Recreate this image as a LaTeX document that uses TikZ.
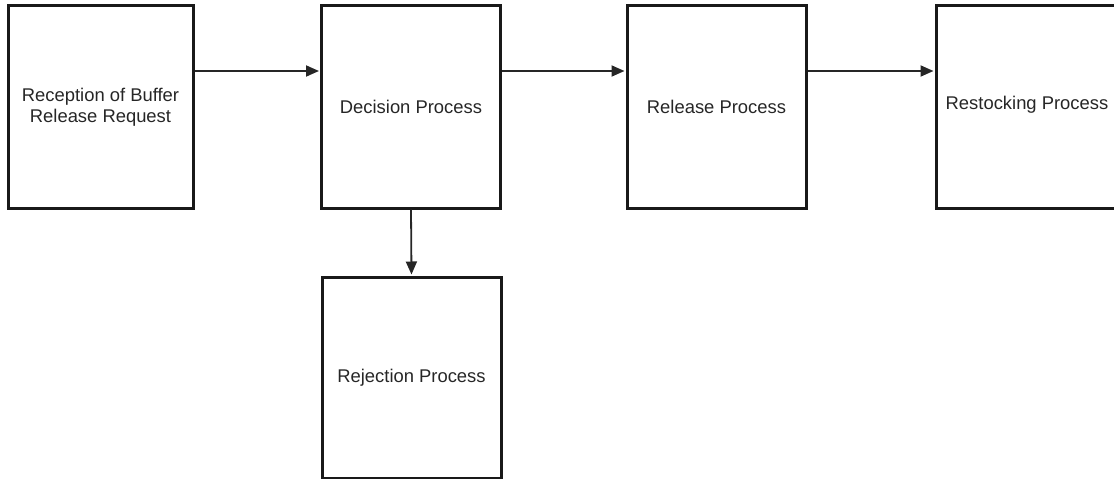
\documentclass[tikz,border=0pt]{standalone}
\usepackage{fontspec}
\setmainfont{Liberation Sans}
\usetikzlibrary{arrows.meta}
\begin{document}
\begin{tikzpicture}[x=1pt,y=-1pt,
  procbox/.style={draw=black!90, line width=3pt, inner sep=0pt, align=center,
    font=\fontsize{18.4}{21.5}\selectfont, text=black!85},
  flow/.style={line width=1.8pt, draw=black!85, -{Triangle[length=13pt,width=11pt]}, shorten >=1pt}]
\useasboundingbox (0,0) rectangle (1114,479);
\node[procbox, minimum width=185pt, minimum height=203pt] (rec) at (100.5,107) {Reception of Buffer\\Release Request};
\node[procbox, minimum width=179pt, minimum height=203pt] (dec) at (411,106.5) {Decision Process};
\node[procbox, minimum width=179pt, minimum height=203pt] (rel) at (716.5,106.5) {Release Process};
\node[procbox, draw=none, outer sep=0pt, minimum width=182pt, minimum height=203pt] (res) at (1027,106.5) {};
\draw[line width=3pt, draw=black!90] ([xshift=10pt]res.north east) -- (res.north west) -- (res.south west) -- ([xshift=10pt]res.south east);
\node[font=\fontsize{18.4}{21.5}\selectfont, text=black!85, inner sep=0pt] (restxt) at (1027,105) {Restocking Process};
\node[procbox, minimum width=179pt, minimum height=201pt] (rej) at (411.5,377.5) {Rejection Process};
\draw[flow] (rec.east |- 0,71) -- (dec.west |- 0,71);
\draw[flow] (dec.east |- 0,71) -- (rel.west |- 0,71);
\draw[flow, shorten >=2.5pt] (rel.east |- 0,71) -- (res.west |- 0,71);
\draw[flow] (dec.south) -- (rej.north);
\end{tikzpicture}
\end{document}
